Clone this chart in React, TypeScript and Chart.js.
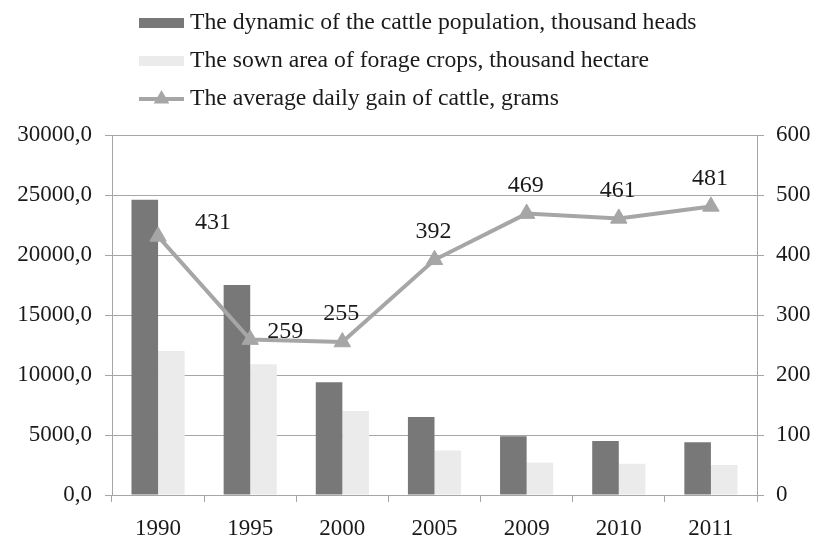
import React, { useEffect, useRef } from 'react';
import { Chart, registerables } from 'chart.js';

Chart.register(...registerables);

const years = ['1990', '1995', '2000', '2005', '2009', '2010', '2011'];
const cattlePopulation = [24600, 17500, 9400, 6500, 4900, 4500, 4400];
const forageArea = [12000, 10900, 7000, 3700, 2700, 2600, 2500];
const dailyGain = [431, 259, 255, 392, 469, 461, 481];

const seriesLabels = [
  'The dynamic of the cattle population, thousand heads',
  'The sown area of forage crops, thousand hectare',
  'The average daily gain of cattle, grams',
];

const FONT = "'Liberation Serif', 'Times New Roman', serif";
const GRID = '#a6a6a6';
const TEXT = '#1a1a1a';
const DARK = '#787878';
const LIGHT = '#ebebeb';
const LINE = '#a6a6a6';

const verticalLegend = {
  id: 'vlegend',
  afterDraw(chart: any) {
    const o = chart.options.plugins.vlegend;
    const ctx = chart.ctx;
    chart.data.datasets.forEach((ds: any, i: number) => {
      const y = o.top + i * o.rowGap;
      const x = o.left;
      ctx.save();
      if (ds.type === 'line') {
        ctx.strokeStyle = ds.borderColor;
        ctx.lineWidth = 4;
        ctx.beginPath();
        ctx.moveTo(x, y);
        ctx.lineTo(x + o.boxWidth, y);
        ctx.stroke();
        const cx = x + o.boxWidth / 2;
        const r = 9;
        ctx.fillStyle = ds.pointBackgroundColor;
        ctx.beginPath();
        ctx.moveTo(cx, y - r);
        ctx.lineTo(cx + r * Math.sin((2 * Math.PI) / 3), y - r * Math.cos((2 * Math.PI) / 3));
        ctx.lineTo(cx + r * Math.sin((4 * Math.PI) / 3), y - r * Math.cos((4 * Math.PI) / 3));
        ctx.closePath();
        ctx.fill();
      } else {
        ctx.fillStyle = ds.backgroundColor;
        ctx.fillRect(x, y - 5, o.boxWidth, 10);
      }
      ctx.fillStyle = TEXT;
      ctx.font = `${o.fontSize}px ${FONT}`;
      ctx.textBaseline = 'middle';
      ctx.textAlign = 'left';
      ctx.fillText(ds.label, x + o.boxWidth + o.gap, y);
      ctx.restore();
    });
  },
};

const pointLabels = {
  id: 'ptlabels',
  afterDatasetsDraw(chart: any) {
    const o = chart.options.plugins.ptlabels;
    const ctx = chart.ctx;
    chart.data.datasets.forEach((ds: any, di: number) => {
      if (ds.type !== 'line') return;
      const meta = chart.getDatasetMeta(di);
      meta.data.forEach((pt: any, i: number) => {
        const off = o.offsets[i] || o.defaultOffset;
        ctx.save();
        ctx.fillStyle = TEXT;
        ctx.font = `${o.fontSize}px ${FONT}`;
        ctx.textAlign = 'center';
        ctx.textBaseline = 'middle';
        ctx.fillText(String(ds.data[i]), pt.x + off[0], pt.y + off[1]);
        ctx.restore();
      });
    });
  },
};

export default function App() {
  const ref = useRef<HTMLCanvasElement | null>(null);

  useEffect(() => {
    document.documentElement.style.overflow = 'hidden';
    document.body.style.margin = '0';
    if (!ref.current) return;
    const tickFont = { family: FONT, size: 23 };
    const chart = new Chart(ref.current, {
      data: {
        labels: years,
        datasets: [
          {
            type: 'bar',
            label: seriesLabels[0],
            data: cattlePopulation,
            backgroundColor: DARK,
            yAxisID: 'y',
            order: 2,
            categoryPercentage: 0.577,
            barPercentage: 1,
          },
          {
            type: 'bar',
            label: seriesLabels[1],
            data: forageArea,
            backgroundColor: LIGHT,
            yAxisID: 'y',
            order: 3,
            categoryPercentage: 0.577,
            barPercentage: 1,
          },
          {
            type: 'line',
            label: seriesLabels[2],
            data: dailyGain,
            borderColor: LINE,
            borderWidth: 4,
            pointStyle: 'triangle',
            pointRadius: 9.5,
            pointBackgroundColor: LINE,
            pointBorderColor: LINE,
            pointBorderWidth: 1,
            yAxisID: 'y1',
            order: 0,
            tension: 0,
          },
        ] as any,
      },
      options: {
        animation: false,
        responsive: true,
        maintainAspectRatio: false,
        layout: { padding: { top: 127, left: 0, right: 0, bottom: 0 } },
        plugins: {
          legend: { display: false },
          tooltip: { enabled: false },
          vlegend: { left: 131, top: 15, rowGap: 38, boxWidth: 45, gap: 6, fontSize: 23.7 },
          ptlabels: {
            fontSize: 24,
            defaultOffset: [-1, -28],
            offsets: { 0: [55, -14], 1: [35, -8] },
          },
        } as any,
        scales: {
          x: {
            offset: true,
            grid: { offset: true, drawOnChartArea: false, drawTicks: true, tickLength: 7, color: GRID },
            border: { color: GRID },
            ticks: { font: tickFont, color: TEXT, padding: 13, maxRotation: 0 },
            afterFit: (s: any) => {
              s.height = 60;
            },
          },
          y: {
            position: 'left',
            min: 0,
            max: 30000,
            ticks: {
              stepSize: 5000,
              font: tickFont,
              color: TEXT,
              padding: 13,
              callback: (v: any) => Number(v).toFixed(1).replace('.', ','),
            },
            grid: { color: GRID, tickLength: 7 },
            border: { color: GRID },
            afterFit: (s: any) => {
              s.width = 104;
            },
          },
          y1: {
            position: 'right',
            min: 0,
            max: 600,
            ticks: { stepSize: 100, font: tickFont, color: TEXT, padding: 12 },
            grid: { drawOnChartArea: false, color: GRID, tickLength: 7 },
            border: { color: GRID },
            afterFit: (s: any) => {
              s.width = 57;
            },
          },
        } as any,
      },
      plugins: [verticalLegend, pointLabels],
    } as any);
    return () => chart.destroy();
  }, []);

  return (
    <div style={{ width: 806, height: 547, position: 'relative', marginLeft: 8, marginTop: 8 }}>
      <canvas ref={ref} />
    </div>
  );
}
